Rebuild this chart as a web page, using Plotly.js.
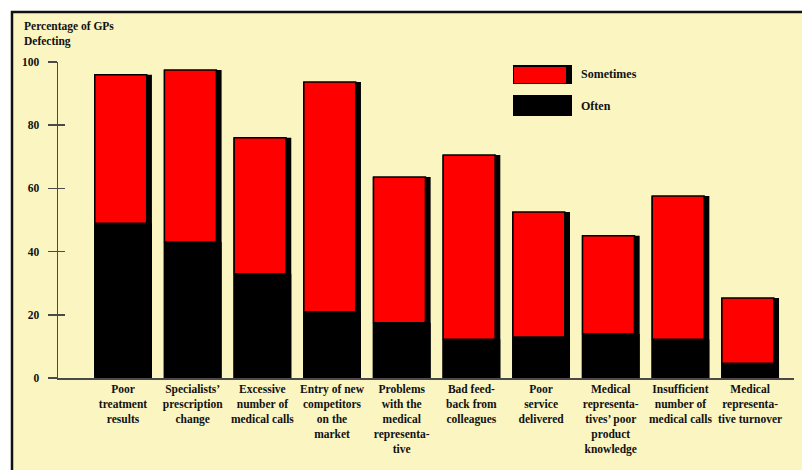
<!DOCTYPE html>
<html>
<head>
<meta charset="utf-8">
<script src="https://cdn.plot.ly/plotly-3.0.1.min.js"></script>
<style>html,body{margin:0;padding:0;background:#fff;}#chart{width:802px;height:470px;}</style>
</head>
<body>
<div id="chart"></div>
<script>
// Data
const categories = [
  "Poor<br>treatment<br>results",
  "Specialists’<br>prescription<br>change",
  "Excessive<br>number of<br>medical calls",
  "Entry of new<br>competitors<br>on the<br>market",
  "Problems<br>with the<br>medical<br>representa-<br>tive",
  "Bad feed-<br>back from<br>colleagues",
  "Poor<br>service<br>delivered",
  "Medical<br>representa-<br>tives’ poor<br>product<br>knowledge",
  "Insufficient<br>number of<br>medical calls",
  "Medical<br>representa-<br>tive turnover"
];
const often     = [49, 43, 33, 21, 17.5, 12.3, 13, 14, 12.3, 4.7];
const sometimes = [47, 54.5, 43, 72.7, 46.1, 58.3, 39.5, 31, 45.3, 20.6];
const yTicks = [0, 20, 40, 60, 80, 100];
const seriesNames = ["Sometimes", "Often"];

const totals = often.map((v, i) => v + sometimes[i]);

const serif = "Liberation Serif, Times New Roman, serif";
const ink = "#111";
const axisCol = "#4a4a4a";

const traces = [
  { // black outline / shadow behind the whole bar
    type: "bar", x: categories, y: totals, width: 0.83,
    marker: {color: "#000"}, showlegend: false, hoverinfo: "skip"
  },
  {
    type: "bar", name: seriesNames[0], x: categories, y: sometimes, base: often,
    width: 0.745, offset: -0.405,
    marker: {color: "#ff0000", line: {color: "#000", width: 1.5}}, showlegend: false
  },
  {
    type: "bar", name: seriesNames[1], x: categories, y: often, width: 0.83,
    marker: {color: "#000"}, showlegend: false
  },
  { // empty trace so that the inner-tick axis is drawn
    type: "scatter", x: [null], y: [null], yaxis: "y2", showlegend: false, hoverinfo: "skip"
  }
];

const W = 736, H = 316, L = 58, B = 378;
const px = v => (v - L) / W;
const py = v => (B - v) / H;

const layout = {
  width: 802, height: 470,
  margin: {l: 58, r: 8, t: 62, b: 92},
  paper_bgcolor: "#ffffff",
  plot_bgcolor: "rgba(0,0,0,0)",
  barmode: "overlay",
  showlegend: false,
  font: {family: serif, color: ink, size: 12},
  xaxis: {
    type: "category", range: [-0.933, 9.63], fixedrange: true,
    showline: true, linecolor: axisCol, linewidth: 1.5,
    ticks: "", showgrid: false, zeroline: false,
    tickfont: {family: serif, size: 11.5, weight: "bold", color: ink}
  },
  yaxis: {
    range: [0, 100], fixedrange: true, tickvals: yTicks, ticktext: yTicks.map(String),
    showline: true, linecolor: axisCol, linewidth: 1.5,
    ticks: "outside", ticklen: 9, tickwidth: 1.5, tickcolor: axisCol,
    ticklabelstandoff: 6,
    showgrid: false, zeroline: false,
    tickfont: {family: serif, size: 11.5, weight: "bold", color: ink}
  },
  yaxis2: {
    overlaying: "y", side: "left", anchor: "x", range: [0, 100], fixedrange: true,
    tickvals: yTicks, showticklabels: false,
    ticks: "inside", ticklen: 7, tickwidth: 1.5, tickcolor: axisCol,
    showline: false, showgrid: false, zeroline: false
  },
  shapes: [
    { // framed pale-yellow panel
      type: "rect", xref: "paper", yref: "paper", layer: "below",
      x0: px(12), x1: px(830), y0: py(500), y1: py(12),
      fillcolor: "#faf5c1", line: {color: "#111", width: 2.5}
    },
    { // legend swatch: Sometimes (shadow)
      type: "rect", xref: "paper", yref: "paper",
      x0: px(513), x1: px(572), y0: py(84), y1: py(65),
      fillcolor: "#000", line: {width: 0}
    },
    {
      type: "rect", xref: "paper", yref: "paper",
      x0: px(514), x1: px(566), y0: py(83), y1: py(67),
      fillcolor: "#ff0000", line: {width: 0}
    },
    { // legend swatch: Often
      type: "rect", xref: "paper", yref: "paper",
      x0: px(513), x1: px(572), y0: py(116), y1: py(95),
      fillcolor: "#000", line: {width: 0}
    }
  ],
  annotations: [
    {
      text: "Percentage of GPs<br>Defecting", xref: "paper", yref: "paper",
      x: px(22), y: py(18), xanchor: "left", yanchor: "top", align: "left",
      showarrow: false, font: {family: serif, size: 11.5, weight: "bold", color: ink}
    },
    {
      text: seriesNames[0], xref: "paper", yref: "paper",
      x: px(579), y: py(74), xanchor: "left", yanchor: "middle",
      showarrow: false, font: {family: serif, size: 12, weight: "bold", color: ink}
    },
    {
      text: seriesNames[1], xref: "paper", yref: "paper",
      x: px(579), y: py(106), xanchor: "left", yanchor: "middle",
      showarrow: false, font: {family: serif, size: 12, weight: "bold", color: ink}
    }
  ]
};

Plotly.newPlot("chart", traces, layout, {displayModeBar: false, staticPlot: true});
</script>
</body>
</html>
